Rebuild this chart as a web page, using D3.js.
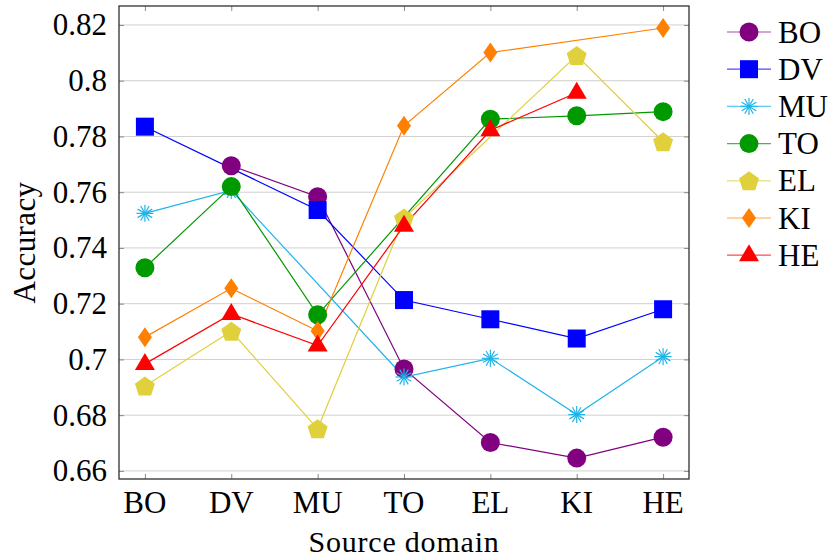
<!DOCTYPE html>
<html>
<head>
<meta charset="utf-8">
<script src="https://cdn.jsdelivr.net/npm/d3@7"></script>
<style>
  body { margin: 0; background: #fff; }
  text { font-family: "Liberation Serif", "Times New Roman", serif; }
</style>
</head>
<body>
<div id="chart-area"></div>
<script>
// source domains on the x axis
var domains = ["BO", "DV", "MU", "TO", "EL", "KI", "HE"];

// accuracy per target series (null = same domain, not plotted)
var valBO = [null, 0.7695, 0.7584, 0.6966, 0.6702, 0.6646, 0.6721];
var valDV = [0.7835, null, 0.7536, 0.7213, 0.7144, 0.7075, 0.7180];
var valMU = [0.7524, 0.7606, null, 0.6937, 0.7004, 0.6802, 0.7010];
var valTO = [0.7329, 0.7620, 0.7160, null, 0.7862, 0.7874, 0.7889];
var valEL = [0.6905, 0.7101, 0.6751, 0.7507, null, 0.8090, 0.7781];
var valKI = [0.7080, 0.7255, 0.7102, 0.7838, 0.8101, null, 0.8189];
var valHE = [0.6984, 0.7163, 0.7050, 0.7480, 0.7822, 0.7957, null];

var yTicks = [0.66, 0.68, 0.7, 0.72, 0.74, 0.76, 0.78, 0.8, 0.82];

var series = [
  { name: "BO", values: valBO, color: "#800080", mark: "circle" },
  { name: "DV", values: valDV, color: "#0000ff", mark: "square" },
  { name: "MU", values: valMU, color: "#1fb4ea", mark: "asterisk" },
  { name: "TO", values: valTO, color: "#009900", mark: "circle" },
  { name: "EL", values: valEL, color: "#e0d03c", mark: "pentagon" },
  { name: "KI", values: valKI, color: "#ff8000", mark: "diamond" },
  { name: "HE", values: valHE, color: "#ff0000", mark: "triangle" }
];

var W = 829, H = 559;
var margin = { top: 6, right: 140, bottom: 80, left: 119 };
var width = W - margin.left - margin.right;
var height = H - margin.top - margin.bottom;

var svg = d3.select("#chart-area")
  .append("svg")
  .attr("width", W)
  .attr("height", H);

var g = svg.append("g")
  .attr("transform", "translate(" + margin.left + "," + margin.top + ")");

var x = d3.scalePoint()
  .domain(domains)
  .range([0, width])
  .padding(0.3);

var y = d3.scaleLinear()
  .domain([0.6571, 0.8268])
  .range([height, 0]);

// grid
g.append("g")
  .selectAll("line")
  .data(yTicks)
  .enter().append("line")
  .attr("x1", 0)
  .attr("x2", width)
  .attr("y1", d => y(d))
  .attr("y2", d => y(d))
  .attr("stroke", "#d0d0d0")
  .attr("stroke-width", 1);

// ticks pointing inward on all four sides
var fmt = d3.format("~g");
var tickStyle = function(sel) {
  sel.select(".domain").remove();
  sel.selectAll(".tick line").attr("stroke", "#8a8a8a");
};

g.append("g")
  .attr("transform", "translate(0," + height + ")")
  .call(d3.axisTop(x).tickSize(5).tickFormat(""))
  .call(tickStyle);
g.append("g")
  .call(d3.axisBottom(x).tickSize(5).tickFormat(""))
  .call(tickStyle);
g.append("g")
  .call(d3.axisRight(y).tickValues(yTicks).tickSize(5).tickFormat(""))
  .call(tickStyle);
g.append("g")
  .attr("transform", "translate(" + width + ",0)")
  .call(d3.axisLeft(y).tickValues(yTicks).tickSize(5).tickFormat(""))
  .call(tickStyle);

// tick labels
g.append("g").selectAll("text")
  .data(domains)
  .enter().append("text")
  .attr("x", d => x(d))
  .attr("y", height + 34)
  .attr("text-anchor", "middle")
  .attr("font-size", 31)
  .attr("fill", "#000")
  .text(d => d);

g.append("g").selectAll("text")
  .data(yTicks)
  .enter().append("text")
  .attr("x", -12)
  .attr("y", d => y(d) + 10.5)
  .attr("text-anchor", "end")
  .attr("font-size", 31)
  .attr("fill", "#000")
  .text(d => fmt(d));

// axis titles
svg.append("text")
  .attr("x", margin.left + width / 2)
  .attr("y", 552)
  .attr("text-anchor", "middle")
  .attr("font-size", 30)
  .attr("letter-spacing", 0.8)
  .text("Source domain");

svg.append("text")
  .attr("transform", "translate(35," + (margin.top + height / 2) + ") rotate(-90)")
  .attr("text-anchor", "middle")
  .attr("font-size", 31)
  .attr("letter-spacing", 0.4)
  .text("Accuracy");

// markers
function drawMark(sel, type, color) {
  if (type === "circle") {
    sel.append("circle").attr("r", 9.5).attr("fill", color);
  } else if (type === "square") {
    sel.append("rect").attr("x", -9).attr("y", -9).attr("width", 18).attr("height", 18)
      .attr("fill", color);
  } else if (type === "diamond") {
    sel.append("path").attr("d", "M0,-10L7,0L0,10L-7,0Z").attr("fill", color);
  } else if (type === "triangle") {
    sel.append("path").attr("d", "M0,-11L10,6L-10,6Z").attr("fill", color);
  } else if (type === "pentagon") {
    var pts = d3.range(5).map(i => {
      var a = -Math.PI / 2 + i * 2 * Math.PI / 5;
      return [10.5 * Math.cos(a), 10.5 * Math.sin(a) + 1];
    });
    sel.append("path").attr("d", "M" + pts.join("L") + "Z").attr("fill", color);
  } else if (type === "asterisk") {
    d3.range(6).forEach(i => {
      var a = i * Math.PI / 6;
      sel.append("line")
        .attr("x1", -8.5 * Math.cos(a)).attr("y1", -8.5 * Math.sin(a))
        .attr("x2", 8.5 * Math.cos(a)).attr("y2", 8.5 * Math.sin(a))
        .attr("stroke", color).attr("stroke-width", 1.2);
    });
  }
}

var line = d3.line()
  .x(d => x(d.dom))
  .y(d => y(d.v));

var pts = series.map(s => s.values
  .map((v, i) => ({ dom: domains[i], v: v }))
  .filter(d => d.v !== null));

// lines first, then markers on top
series.forEach((s, k) => {
  g.append("path")
    .datum(pts[k])
    .attr("d", line)
    .attr("fill", "none")
    .attr("stroke", s.color)
    .attr("stroke-width", 1.2);
});

series.forEach((s, k) => {
  pts[k].forEach(d => {
    var m = g.append("g").attr("transform", "translate(" + x(d.dom) + "," + y(d.v) + ")");
    drawMark(m, s.mark, s.color);
  });
});

// frame
g.append("rect")
  .attr("width", width)
  .attr("height", height)
  .attr("fill", "none")
  .attr("stroke", "#303030")
  .attr("stroke-width", 1.3);

// legend
var legend = svg.append("g");
series.forEach((s, i) => {
  var ly = 32 + i * 37.2;
  var row = legend.append("g").attr("transform", "translate(749," + ly + ")");
  row.append("line")
    .attr("x1", -22).attr("x2", 22)
    .attr("stroke", s.color).attr("stroke-width", 1.2).attr("opacity", 0.7);
  drawMark(row, s.mark, s.color);
  row.append("text")
    .attr("x", 29)
    .attr("y", 10.5)
    .attr("font-size", 31)
    .text(s.name);
});
</script>
</body>
</html>
